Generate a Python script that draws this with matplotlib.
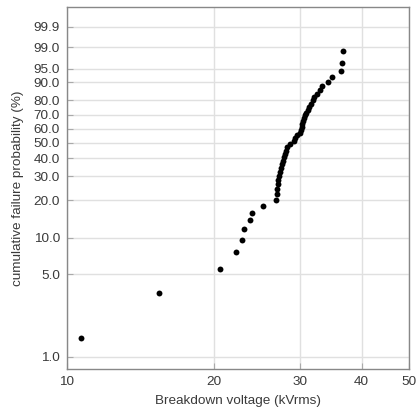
import numpy as np
import matplotlib
matplotlib.use('Agg')
from matplotlib import pyplot as plt
from matplotlib.ticker import FixedLocator, NullLocator, FixedFormatter

plt.rcParams['font.family'] = ['Liberation Sans', 'DejaVu Sans']

# breakdown voltages (kVrms)
voltage = [10.68, 15.39, 20.54, 22.12, 22.82, 23.00, 23.70, 23.92, 25.12, 26.74,
           26.81, 26.90, 26.97, 27.04, 27.14, 27.23, 27.38, 27.56, 27.68, 27.78,
           27.90, 28.03, 28.16, 28.56, 29.04, 29.24, 29.45, 29.87, 30.04, 30.18,
           30.27, 30.37, 30.50, 30.68, 30.86, 31.05, 31.27, 31.49, 31.77, 32.04,
           32.40, 32.89, 33.20, 34.15, 34.88, 36.36, 36.53, 36.60]

# cumulative failure probability (%) of each point
prob = [1.45, 3.51, 5.58, 7.64, 9.71, 11.78, 13.84, 15.91, 17.98, 20.04,
        22.11, 24.17, 26.24, 28.31, 30.37, 32.44, 34.50, 36.57, 38.64, 40.70,
        42.77, 44.83, 46.90, 48.97, 51.03, 53.10, 55.17, 57.23, 59.30, 61.36,
        63.43, 65.50, 67.56, 69.63, 71.69, 73.76, 75.83, 77.89, 79.96, 82.02,
        84.09, 86.16, 88.22, 90.29, 92.36, 94.42, 96.49, 98.55]

x_ticks = [10, 20, 30, 40, 50]
y_ticks = [1.0, 5.0, 10.0, 20.0, 30.0, 40.0, 50.0, 60.0, 70.0, 80.0, 90.0, 95.0, 99.0, 99.9]


def weibull_fwd(p):
    p = np.clip(np.asarray(p, dtype=float), 1e-6, 100 - 1e-9)
    return np.log(-np.log(1 - p / 100.))


def weibull_inv(w):
    w = np.asarray(w, dtype=float)
    return 100. * (1 - np.exp(-np.exp(w)))


fig = plt.figure(figsize=(4.17, 4.17), dpi=100)
ax = fig.add_axes([0.1607, 0.1151, 0.8201, 0.8681])

ax.set_xscale('log')
ax.set_yscale('function', functions=(weibull_fwd, weibull_inv))

ax.grid(True, color='#e0e0e0', linewidth=1.0)
ax.set_axisbelow(True)
ax.scatter(voltage, prob, s=18, color='black', zorder=3, linewidths=0)

ax.set_xlim(10, 50)
ax.set_ylim(0.784, 99.9963)

ax.xaxis.set_major_locator(FixedLocator(x_ticks))
ax.xaxis.set_major_formatter(FixedFormatter([str(t) for t in x_ticks]))
ax.xaxis.set_minor_locator(NullLocator())
ax.yaxis.set_major_locator(FixedLocator(y_ticks))
ax.yaxis.set_major_formatter(FixedFormatter(['%.1f' % t for t in y_ticks]))
ax.yaxis.set_minor_locator(NullLocator())

ax.tick_params(axis='both', direction='in', length=4, color='#aaaaaa',
               labelsize=9.7, labelcolor='#3a3a3a', pad=5)
for sp in ax.spines.values():
    sp.set_color('#888888')
    sp.set_linewidth(1.0)

ax.set_xlabel('Breakdown voltage (kVrms)', fontsize=9.7, color='#3a3a3a', labelpad=5)
ax.set_ylabel('cumulative failure probability (%)', fontsize=9.7, color='#3a3a3a', labelpad=7)

fig.savefig('out.png', dpi=100)
